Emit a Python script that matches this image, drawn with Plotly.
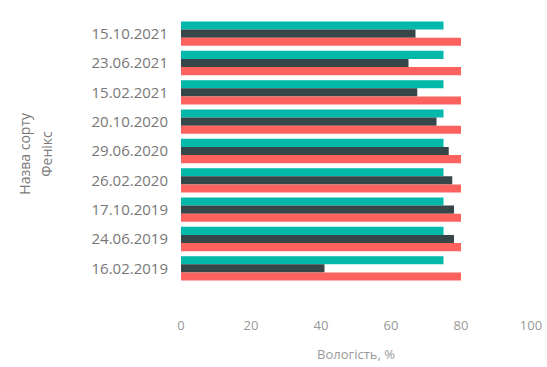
import plotly.graph_objects as go

categories = ["15.10.2021", "23.06.2021", "15.02.2021", "20.10.2020", "29.06.2020",
              "26.02.2020", "17.10.2019", "24.06.2019", "16.02.2019"]
series_a = [75, 75, 75, 75, 75, 75, 75, 75, 75]
series_b = [67, 65, 67.5, 73, 76.5, 77.5, 78, 78, 41]
series_c = [80, 80, 80, 80, 80, 80, 80, 80, 80]
x_ticks = [0, 20, 40, 60, 80, 100]

colors = ["#01B8AA", "#374649", "#FD625E"]
names = ["A", "B", "C"]

L, R = 181, 16
W = 547 - L - R

fig = go.Figure()
for vals, col, nm in zip([series_a, series_b, series_c], colors, names):
    fig.add_trace(go.Bar(y=categories, x=vals, orientation="h", marker_color=col,
                         marker_line_width=0, name=nm))

fig.update_layout(
    width=547, height=367,
    margin=dict(l=L, r=R, t=19, b=84),
    barmode="group", bargap=0.17, bargroupgap=0,
    showlegend=False,
    plot_bgcolor="white", paper_bgcolor="white",
    font=dict(family="Open Sans, DejaVu Sans", color="#777777"),
    annotations=[
        dict(text="Назва сорту", xref="paper", yref="paper", x=(25 - L) / W, y=0.49,
             xanchor="center", yanchor="middle", textangle=-90, showarrow=False,
             font=dict(size=14, color="#7a7a7a")),
        dict(text="Фенікс", xref="paper", yref="paper", x=(47 - L) / W, y=0.49,
             xanchor="center", yanchor="middle", textangle=-90, showarrow=False,
             font=dict(size=14, color="#7a7a7a")),
    ],
)
fig.update_xaxes(range=[0, 100], tickvals=x_ticks, showgrid=False, zeroline=False,
                 showline=False, ticks="", tickfont=dict(size=13, color="#999999"),
                 ticklabelstandoff=33, automargin=False,
                 title=dict(text="Вологість, %", font=dict(size=13, color="#999999"), standoff=16))
fig.update_yaxes(autorange="reversed", showgrid=False, zeroline=False, showline=False,
                 ticks="", tickfont=dict(size=15, color="#777777"), ticklabelstandoff=12,
                 automargin=False)

fig.write_html("out.html")
